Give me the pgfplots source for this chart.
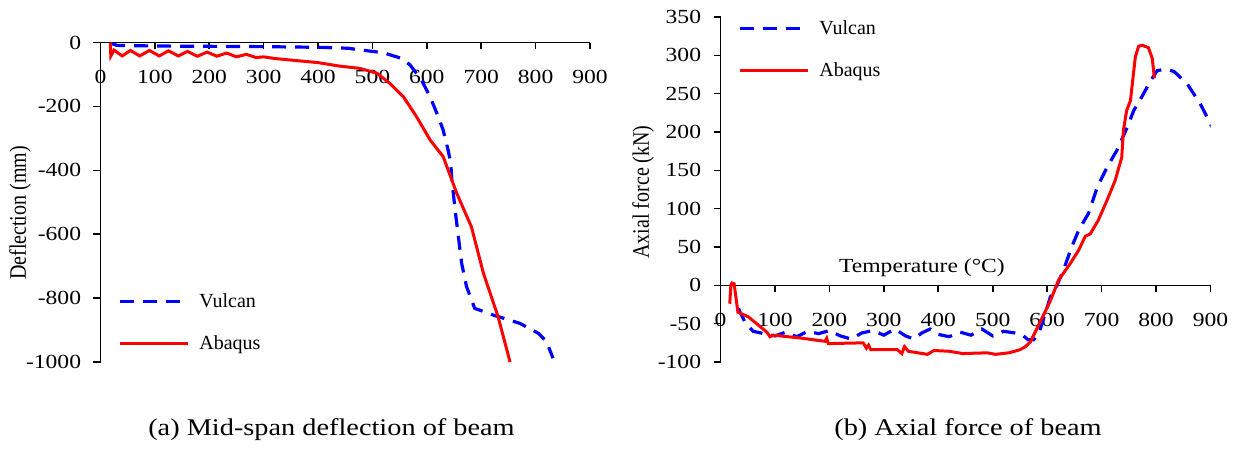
\documentclass[border=0pt]{standalone}
\usepackage{fontspec}
\setmainfont{Liberation Serif}
\usepackage{pgfplots}
\pgfplotsset{compat=1.18}
\definecolor{vblue}{RGB}{0,0,255}
\definecolor{ared}{RGB}{255,0,0}
\newcommand{\tfont}{\fontsize{20}{24}\selectfont}
\begin{document}
\begin{tikzpicture}
\path[use as bounding box] (0pt,0pt) rectangle (1242pt,448pt);
\pgfplotsset{
 myaxis/.style={
  scale only axis,
  axis lines=middle,
  axis line style={line width=1.6pt, -},
  tick style={line width=1.6pt, black},
  tick align=outside,
  major tick length=7pt,
  hide obscured x ticks=false, hide obscured y ticks=false,
  tick label style={font=\tfont, xscale=1.18},
  xticklabel style={anchor=base, yshift=-34pt},
  yticklabel style={anchor=east, xshift=-7pt},
  xmin=0, xmax=900,
  xtick={0,100,200,300,400,500,600,700,800,900},
  xticklabels={0,100,200,300,400,500,600,700,800,900},
  legend style={draw=none, fill=none, inner sep=0pt, outer sep=0pt,
    font=\tfont, row sep=24pt, column sep=10pt,
    nodes={inner sep=0pt, text height=14pt, text depth=4pt, anchor=base west}},
  legend cell align=left,
  legend image code/.code={\draw[##1] (0pt,6pt) -- (68pt,6pt);},
 },
 vul/.style={color=vblue, line width=3.2pt, dash pattern=on 14pt off 9pt},
 aba/.style={color=ared, line width=3pt},
}
% ---------- (a) deflection ----------
\begin{axis}[myaxis, at={(100.5pt,86pt)}, anchor=south west, width=489.5pt, height=319.5pt,
  ymin=-1000, ymax=0,
  ytick={-1000,-800,-600,-400,-200,0},
  yticklabels={-1000,-800,-600,-400,-200,0},
  legend style={at={(axis description cs:0.036,0.215)}, anchor=north west}]
\addplot[vul] coordinates {(20,-3) (30,-9) (100,-11) (200,-12) (300,-13) (400,-15) (455,-18) (477,-23) (520,-32) (554,-50) (569,-70) (590,-117) (606,-170) (621,-232) (630,-274) (639,-336) (644,-378) (646,-430) (652,-524) (658,-608) (664,-691) (673,-764) (688,-832) (722,-853) (771,-879) (805,-910) (820,-936) (832,-988)};
\addlegendentry{Vulcan}
\addplot[aba] coordinates {(18,0) (19,-42) (25,-24) (40,-42) (55,-25) (72,-42) (90,-25) (108,-42) (125,-26) (143,-42) (160,-28) (178,-43) (196,-30) (214,-43) (232,-33) (250,-45) (268,-37) (286,-47) (300,-45) (320,-50) (350,-55) (400,-63) (440,-74) (477,-81) (508,-96) (532,-128) (557,-170) (581,-232) (606,-305) (630,-357) (655,-472) (682,-577) (704,-722) (731,-858) (753,-1000)};
\addlegendentry{Abaqus}
\node[font=\tfont, xscale=1.18, anchor=base] at (axis cs:473,0) [yshift=9pt] {Temperature (°C)};
\end{axis}
% ---------- (b) axial force ----------
\begin{axis}[myaxis, at={(720.5pt,86pt)}, anchor=south west, width=490pt, height=345pt,
  ymin=-100, ymax=350,
  ytick={-100,-50,0,50,100,150,200,250,300,350},
  yticklabels={-100,-50,0,50,100,150,200,250,300,350},
  legend style={at={(axis description cs:0.036,0.99)}, anchor=north west}]
\addplot[vul] coordinates {(33,-30) (36,-35) (45,-48) (60,-60) (80,-63) (100,-66) (120,-61) (140,-67) (160,-60) (180,-63) (200,-59) (220,-66) (240,-70) (260,-62) (280,-59) (300,-65) (320,-57) (340,-66) (355,-70) (370,-62) (385,-57) (400,-64) (420,-67) (440,-61) (460,-65) (480,-57) (500,-66) (520,-60) (540,-62) (555,-65) (565,-71) (575,-71) (585,-62) (595,-40) (606,-15) (618,0) (630,20) (645,50) (658,72) (676,94) (692,128) (710,154) (728,176) (747,206) (759,228) (774,246) (790,267) (802,280) (817,282) (833,279) (857,263) (881,237) (897,215) (903,206)};
\addlegendentry{Vulcan}
\addplot[aba] coordinates {(17,-24) (19,0) (21,3) (25,2) (32,-35) (51,-41) (85,-61) (91,-67) (97,-65) (150,-69) (192,-73) (195,-69) (198,-76) (262,-75) (268,-82) (272,-78) (276,-84) (325,-84) (333,-89) (338,-80) (345,-86) (380,-90) (392,-85) (420,-86) (445,-89) (490,-88) (505,-90) (530,-88) (550,-84) (560,-80) (569,-74) (587,-48) (606,-20) (621,7) (642,28) (658,46) (670,64) (679,67) (694,85) (710,111) (725,137) (737,167) (740,202) (746,228) (753,241) (755,254) (762,298) (768,312) (775,313) (786,310) (793,296) (797,270)};
\addlegendentry{Abaqus}
\node[font=\tfont, xscale=1.18, anchor=base] at (axis cs:370,0) [yshift=13pt] {Temperature (°C)};
\end{axis}
% ---------- labels and captions ----------
\node[font=\tfont, rotate=90, yscale=1.18] at (20pt,235pt) {Deflection (mm)};
\node[font=\tfont, rotate=90, yscale=1.18] at (643pt,256pt) {Axial force (kN)};
\node[font=\fontsize{24}{28}\selectfont, xscale=1.18] at (331.5pt,18pt) {(a) Mid-span deflection of beam};
\node[font=\fontsize{24}{28}\selectfont, xscale=1.18] at (968pt,18pt) {(b) Axial force of beam};
\end{tikzpicture}
\end{document}
